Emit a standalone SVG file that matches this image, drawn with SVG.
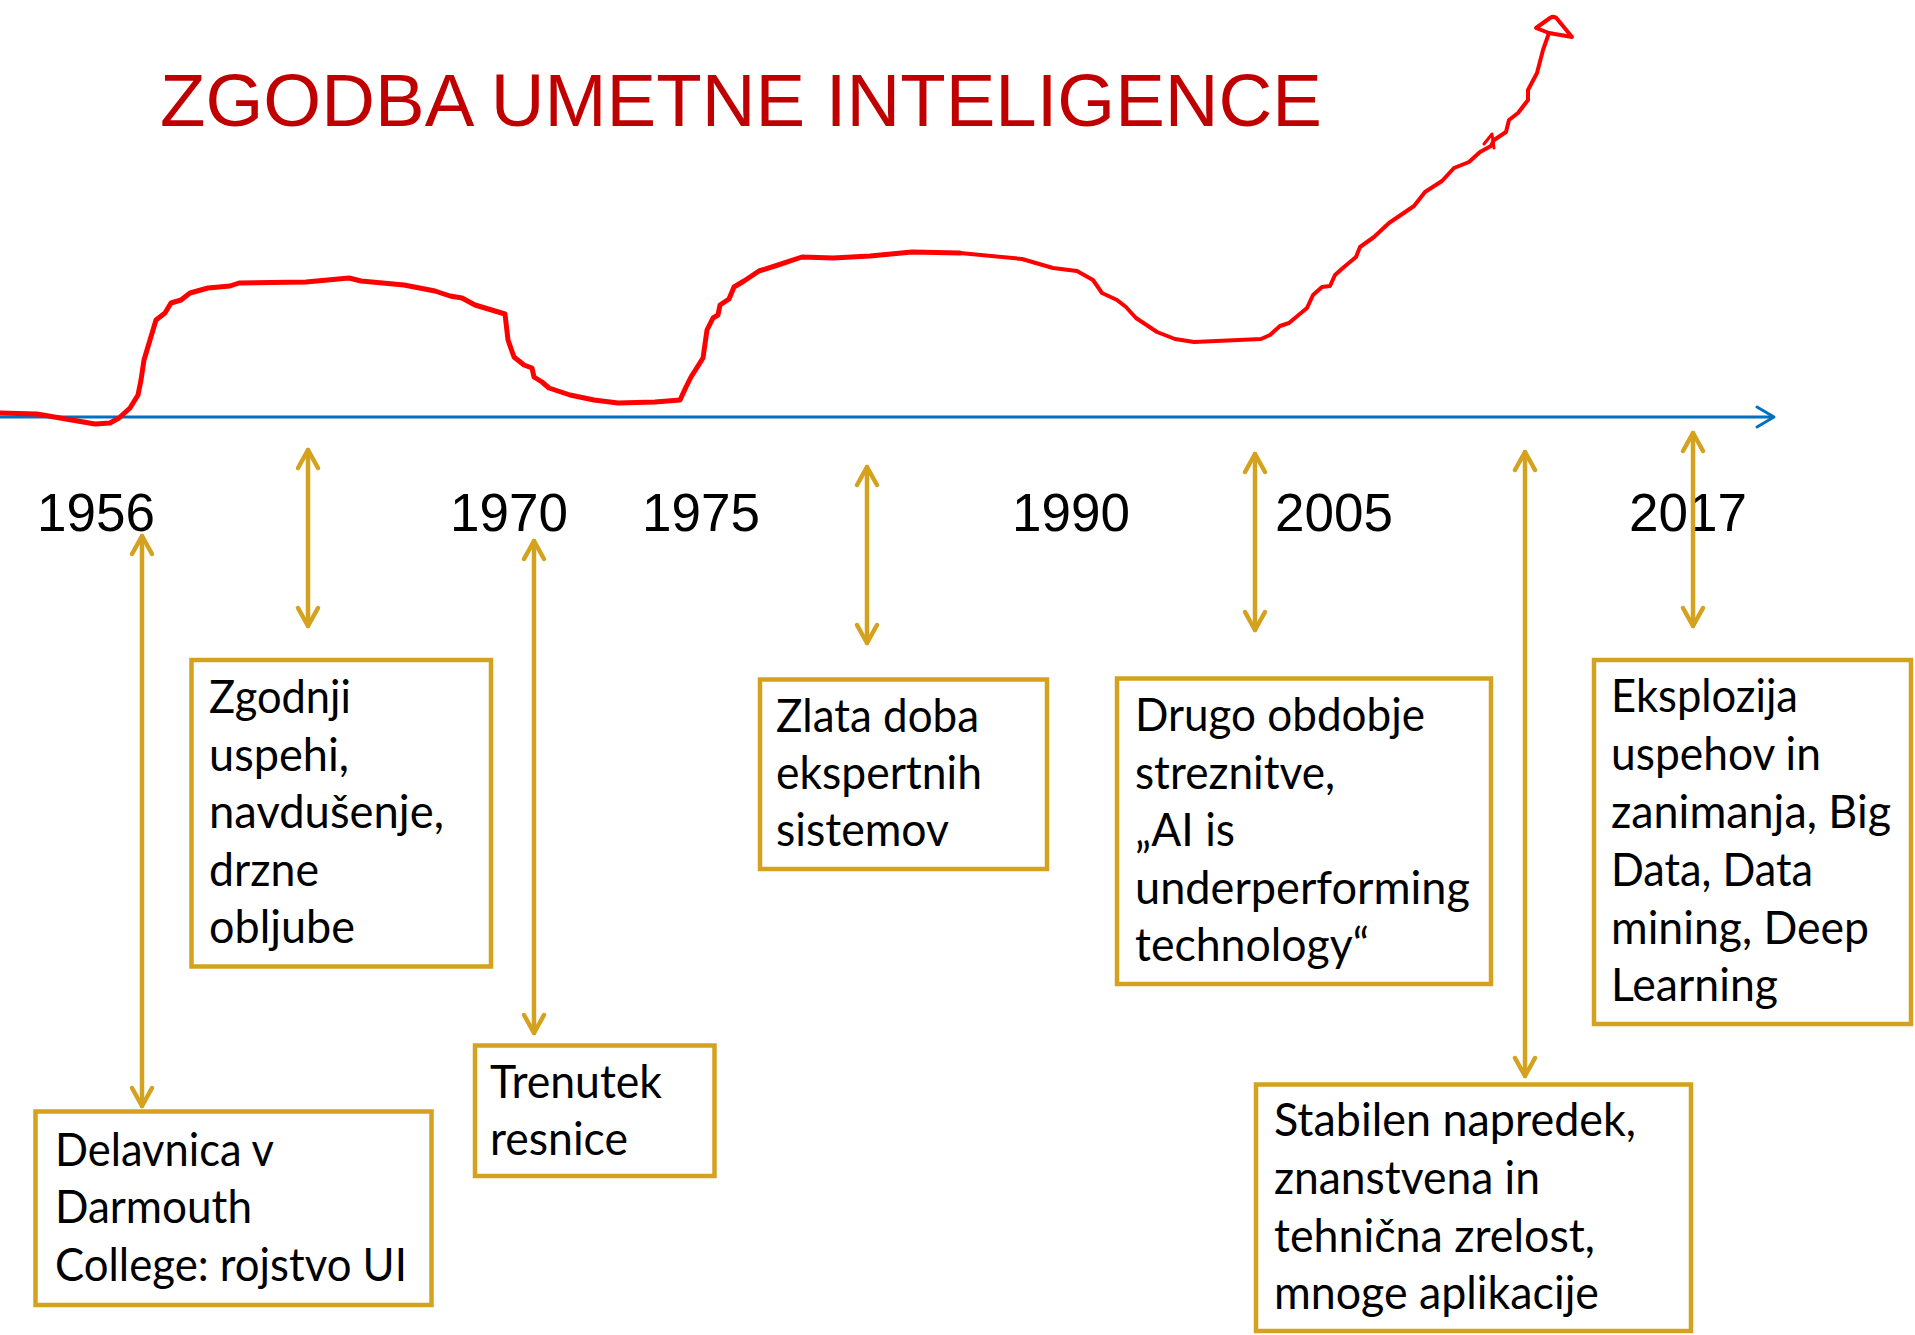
<svg xmlns="http://www.w3.org/2000/svg" width="1915" height="1335" viewBox="0 0 1915 1335">
<style>
.title{font-family:"Liberation Sans",Arial,sans-serif;font-size:75px;fill:#C00000}
.year{font-family:"Liberation Sans",Arial,sans-serif;font-size:53px;fill:#000}
.box{fill:#fff;stroke:#D4A21F;stroke-width:4.5}
.lbl{font-family:Lato,"Noto Sans",sans-serif;font-size:46px;fill:#000}
.conn{stroke:#D4A21F;stroke-width:4.5;stroke-linecap:round;fill:none}
.curve{fill:none;stroke:#FF0000;stroke-linejoin:round;stroke-linecap:round}
</style>
<defs>
<marker id="ah" viewBox="-22 -14 26 28" refX="0" refY="0" markerWidth="26" markerHeight="28" markerUnits="userSpaceOnUse" orient="auto-start-reverse">
<path d="M-18,-10 L0,0 L-18,10" fill="none" stroke="#D4A21F" stroke-width="4.5" stroke-linecap="round" stroke-linejoin="round"/>
</marker>
</defs>
<rect width="1915" height="1335" fill="#fff"/>
<text class="title" x="160" y="126" textLength="1162" lengthAdjust="spacingAndGlyphs">ZGODBA UMETNE INTELIGENCE</text>
<g id="timeline">
<line x1="0" y1="417" x2="1773" y2="417" stroke="#0070C0" stroke-width="3"/>
<polyline points="1757,407 1774,417 1757,427" fill="none" stroke="#0070C0" stroke-width="3" stroke-linecap="round" stroke-linejoin="round"/>
</g>
<g id="curve">
<path class="curve" stroke-width="5" d="M0,413 L37,414 L60,418 L95,424 L110,423 L119,418 L130,408 L138,395 L141,380 L144,360 L150,340 L156,320 L165,313 L171,303 L181,300 L190,293 L208,288 L230,286 L239,283 L306,282 L349,278 L361,281 L404,285 L435,291 L450,296 L462,298 L475,305 L505,314 L508,340 L514,357 L524,365 L532,368 L534,377 L542,382 L549,388 L570,395 L594,400 L618,403 L655,402 L680,400 L686,387 L691,377 L703,358 L707,330 L713,318 L718,315 L720,305 L729,299 L734,287 L744,281 L759,271 L778,265 L802,257 L833,258 L870,256 L912,252 L960,253"/>
<path class="curve" stroke-width="4" d="M960,253 L1022,259 L1053,268 L1077,271 L1093,280 L1102,293 L1117,300 L1126,307 L1136,318 L1157,332 L1175,339 L1194,342 L1261,339 L1270,335 L1280,326 L1289,323 L1307,308 L1313,295 L1322,287 L1330,286 L1335,275 L1344,267 L1356,257 L1360,247 L1374,237 L1389,223 L1414,206 L1425,192 L1442,181 L1454,168 L1469,162 L1480,152 L1491,146 L1494,140 L1506,132 L1509,120 L1518,113 L1528,100 L1528,90 L1537,73 L1543,50 L1549,33"/>
<path class="curve" stroke-width="4" d="M1549,33 L1536,28 L1550,18 Q1555,15 1558,20 L1572,37 L1549,33"/>
<path class="curve" stroke-width="3" d="M1484,144 L1492,134 L1494,148"/>
</g>
<g id="years">
<text class="year" x="37" y="531">1956</text>
<text class="year" x="450" y="531">1970</text>
<text class="year" x="642" y="531">1975</text>
<text class="year" x="1012" y="531">1990</text>
<text class="year" x="1275" y="531">2005</text>
<text class="year" x="1629" y="531">2017</text>
</g>
<g id="connectors">
<line class="conn" x1="142" y1="536" x2="142" y2="1106" marker-start="url(#ah)" marker-end="url(#ah)"/>
<line class="conn" x1="308" y1="450" x2="308" y2="626" marker-start="url(#ah)" marker-end="url(#ah)"/>
<line class="conn" x1="534" y1="541" x2="534" y2="1033" marker-start="url(#ah)" marker-end="url(#ah)"/>
<line class="conn" x1="867" y1="467" x2="867" y2="643" marker-start="url(#ah)" marker-end="url(#ah)"/>
<line class="conn" x1="1255" y1="454" x2="1255" y2="630" marker-start="url(#ah)" marker-end="url(#ah)"/>
<line class="conn" x1="1525" y1="452" x2="1525" y2="1076" marker-start="url(#ah)" marker-end="url(#ah)"/>
<line class="conn" x1="1693" y1="433" x2="1693" y2="626" marker-start="url(#ah)" marker-end="url(#ah)"/>
</g>
<g id="n1956">
<rect class="box" x="35.5" y="1111.5" width="396" height="193.5"/>
<text class="lbl" x="55" y="1166" textLength="219" lengthAdjust="spacingAndGlyphs">Delavnica v</text>
<text class="lbl" x="55" y="1223" textLength="197" lengthAdjust="spacingAndGlyphs">Darmouth</text>
<text class="lbl" x="55" y="1281" textLength="352" lengthAdjust="spacingAndGlyphs">College: rojstvo UI</text>
</g>
<g id="nEarly">
<rect class="box" x="191.5" y="660" width="299.5" height="306.5"/>
<text class="lbl" x="209" y="713" textLength="142" lengthAdjust="spacingAndGlyphs">Zgodnji</text>
<text class="lbl" x="209" y="770.5" textLength="140" lengthAdjust="spacingAndGlyphs">uspehi,</text>
<text class="lbl" x="209" y="828" textLength="235" lengthAdjust="spacingAndGlyphs">navdušenje,</text>
<text class="lbl" x="209" y="885.5" textLength="110" lengthAdjust="spacingAndGlyphs">drzne</text>
<text class="lbl" x="209" y="943" textLength="146" lengthAdjust="spacingAndGlyphs">obljube</text>
</g>
<g id="n1970">
<rect class="box" x="475" y="1045.5" width="239.5" height="130.5"/>
<text class="lbl" x="490" y="1098" textLength="172" lengthAdjust="spacingAndGlyphs">Trenutek</text>
<text class="lbl" x="490" y="1155" textLength="138" lengthAdjust="spacingAndGlyphs">resnice</text>
</g>
<g id="nGold">
<rect class="box" x="760" y="679.5" width="287" height="189.5"/>
<text class="lbl" x="776" y="732" textLength="203" lengthAdjust="spacingAndGlyphs">Zlata doba</text>
<text class="lbl" x="776" y="788.5" textLength="206" lengthAdjust="spacingAndGlyphs">ekspertnih</text>
<text class="lbl" x="776" y="846" textLength="173" lengthAdjust="spacingAndGlyphs">sistemov</text>
</g>
<g id="nSecond">
<rect class="box" x="1117" y="678.5" width="374" height="305.5"/>
<text class="lbl" x="1135" y="731" textLength="290" lengthAdjust="spacingAndGlyphs">Drugo obdobje</text>
<text class="lbl" x="1135" y="788.5" textLength="200" lengthAdjust="spacingAndGlyphs">streznitve,</text>
<text class="lbl" x="1135" y="846" textLength="100" lengthAdjust="spacingAndGlyphs">„AI is</text>
<text class="lbl" x="1135" y="903.5" textLength="335" lengthAdjust="spacingAndGlyphs">underperforming</text>
<text class="lbl" x="1135" y="961" textLength="234" lengthAdjust="spacingAndGlyphs">technology“</text>
</g>
<g id="nStable">
<rect class="box" x="1256" y="1084.5" width="435" height="246.5"/>
<text class="lbl" x="1274" y="1136" textLength="362" lengthAdjust="spacingAndGlyphs">Stabilen napredek,</text>
<text class="lbl" x="1274" y="1193.5" textLength="266" lengthAdjust="spacingAndGlyphs">znanstvena in</text>
<text class="lbl" x="1274" y="1251.5" textLength="321" lengthAdjust="spacingAndGlyphs">tehnična zrelost,</text>
<text class="lbl" x="1274" y="1309" textLength="325" lengthAdjust="spacingAndGlyphs">mnoge aplikacije</text>
</g>
<g id="n2017">
<rect class="box" x="1594" y="660" width="317" height="364"/>
<text class="lbl" x="1611" y="712" textLength="187" lengthAdjust="spacingAndGlyphs">Eksplozija</text>
<text class="lbl" x="1611" y="770" textLength="210" lengthAdjust="spacingAndGlyphs">uspehov in</text>
<text class="lbl" x="1611" y="828" textLength="280" lengthAdjust="spacingAndGlyphs">zanimanja, Big</text>
<text class="lbl" x="1611" y="885.5" textLength="202" lengthAdjust="spacingAndGlyphs">Data, Data</text>
<text class="lbl" x="1611" y="943.5" textLength="258" lengthAdjust="spacingAndGlyphs">mining, Deep</text>
<text class="lbl" x="1611" y="1000.5" textLength="167" lengthAdjust="spacingAndGlyphs">Learning</text>
</g>
</svg>
